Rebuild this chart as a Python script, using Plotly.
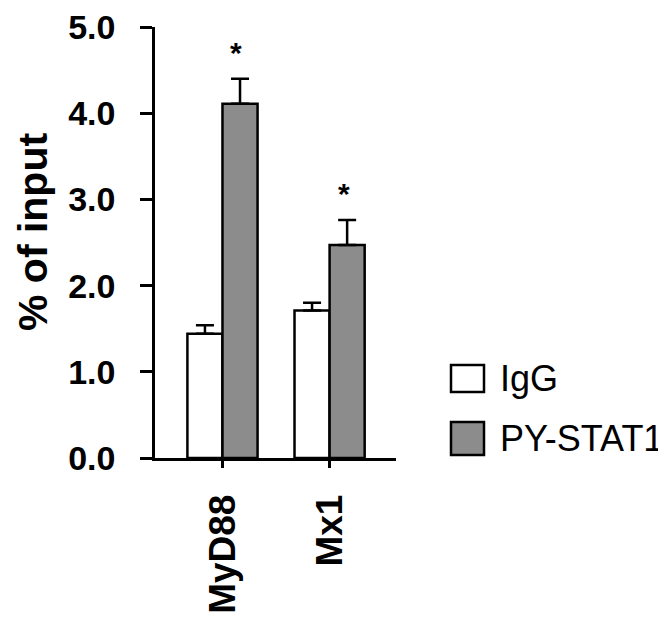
import plotly.graph_objects as go

# ---------------------------------------------------------------------------
# Data
# ---------------------------------------------------------------------------
genes = ["MyD88", "Mx1"]
series_names = ["IgG", "PY-STAT1"]
igg_values = [1.44, 1.71]
igg_errors = [0.10, 0.09]
pystat_values = [4.11, 2.47]
pystat_errors = [0.29, 0.29]
significant = ["*", "*"]
y_ticks = [0, 1, 2, 3, 4, 5]
y_tick_labels = ["0.0", "1.0", "2.0", "3.0", "4.0", "5.0"]

FILL = ["#ffffff", "#8c8c8c"]
FONT = "Liberation Sans, Arial, sans-serif"

# plot area in pixels
L, R, T, B = 147, 388, 19, 450
W, H = 666, 619


def px_x(px):
    return (px - L) / (R - L)


def px_y(py):
    return (B - py) / (B - T)


fig = go.Figure()
for name, vals, errs, fill in [
    (series_names[0], igg_values, igg_errors, FILL[0]),
    (series_names[1], pystat_values, pystat_errors, FILL[1]),
]:
    fig.add_trace(go.Bar(
        x=genes, y=vals, name=name, showlegend=False,
        marker=dict(color=fill, line=dict(color="black", width=2.5)),
        error_y=dict(type="data", array=errs, arrayminus=[0] * len(errs),
                     symmetric=False, color="black", thickness=2.5, width=9),
    ))

# significance stars above the PY-STAT1 bars
for g, v, e, s in zip(genes, pystat_values, pystat_errors, significant):
    fig.add_annotation(x=g, y=v + e, text=s, showarrow=False, xshift=14,
                       yanchor="bottom", yshift=8,
                       font=dict(family=FONT, size=30, color="black", weight="bold"))

# hand-drawn legend (large boxes)
legend_rows = [(357, 384), (414, 447)]
for name, fill, (y0, y1) in zip(series_names, FILL, legend_rows):
    fig.add_shape(type="rect", xref="paper", yref="paper",
                  x0=px_x(443), x1=px_x(476), y0=px_y(y1), y1=px_y(y0),
                  fillcolor=fill, line=dict(color="black", width=2.5))
    fig.add_annotation(xref="paper", yref="paper", x=px_x(490), y=px_y((y0 + y1) / 2),
                       text=name, showarrow=False, xanchor="left", yanchor="middle",
                       font=dict(family=FONT, size=36, color="black"))

# y-axis title
fig.add_annotation(xref="paper", yref="paper", x=px_x(25), y=px_y(224),
                   text="% of input", textangle=-90, showarrow=False,
                   xanchor="center", yanchor="middle",
                   font=dict(family=FONT, size=41, color="black", weight="bold"))

fig.update_layout(
    width=W, height=H,
    margin=dict(l=L, r=W - R, t=T, b=H - B, autoexpand=False),
    paper_bgcolor="white", plot_bgcolor="white",
    barmode="group", bargap=0.345, bargroupgap=0,
    font=dict(family=FONT, color="black"),
)
fig.update_xaxes(
    range=[-0.63, 1.62], showline=True, linecolor="black", linewidth=2.5,
    ticks="outside", ticklen=7, tickwidth=2.5, tickcolor="black",
    tickangle=-90, ticklabelstandoff=12, ticklabeloverflow="allow",
    showgrid=False, zeroline=False,
    tickfont=dict(family=FONT, size=37, color="black", weight="bold"),
)
fig.update_yaxes(
    range=[0, 5], tickvals=y_ticks, ticktext=y_tick_labels,
    showline=True, linecolor="black", linewidth=2.5,
    ticks="outside", ticklen=12, tickwidth=2.5, tickcolor="black",
    ticklabelstandoff=18, ticklabeloverflow="allow",
    showgrid=False, zeroline=False,
    tickfont=dict(family=FONT, size=34, color="black", weight="bold"),
)

fig.write_html("out.html")
